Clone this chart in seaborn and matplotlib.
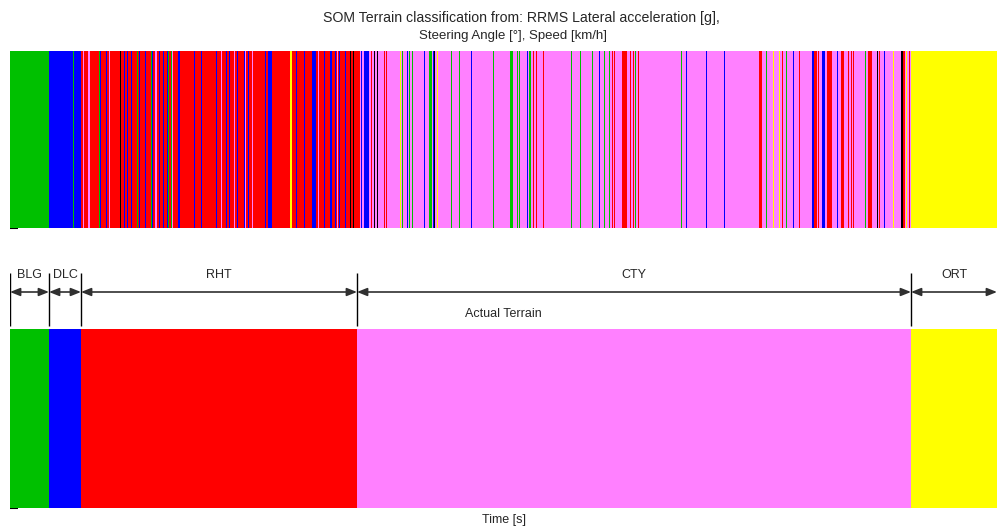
# SOM terrain classification strip vs actual terrain strip
import numpy as np
import matplotlib
matplotlib.use('Agg')  # no display
import matplotlib.pyplot as plt
from matplotlib.colors import ListedColormap
import seaborn as sns


# DATA
classes = ["BLG", "DLC", "RHT", "CTY", "ORT", "UNK"]
class_colors = ["#00c000", "#0000ff", "#ff0000", "#ff80ff", "#ffff00", "#000000"]

# actual terrain segments (time [s])
seg_edges = [0, 39, 71, 347, 901, 987]
seg_labels = ["BLG", "DLC", "RHT", "CTY", "ORT"]

# SOM misclassified stripes: start time, duration, class
stripe_t = [63, 73, 78, 89, 90, 96, 99, 110, 114, 117, 121, 127, 129, 135, 141, 142,
            145, 149, 153, 157, 158, 161, 162, 168, 184, 191, 206, 211, 216, 219, 224,
            227, 234, 235, 238, 242, 255, 258, 280, 286, 294, 302, 308, 314, 320, 325,
            327, 329, 335, 340, 343,
            347, 351, 354, 361, 364, 367, 374, 376, 390, 392, 397, 399, 402, 414, 419,
            423, 424, 427, 441, 449, 461, 483, 500, 507, 509, 517, 519, 523, 526, 533,
            561, 570, 582, 589, 594, 599, 602, 604, 612, 620, 623, 625, 628, 671, 676,
            696, 714, 749, 756, 763, 769, 772, 776, 783, 789, 802, 804, 808, 812, 817,
            827, 831, 838, 841, 843, 855, 858, 867, 869, 874, 883, 891, 893, 896, 899]
stripe_w = [1, 1, 2, 1, 1, 1, 1, 1, 1, 1, 1, 1, 1, 1, 1, 1,
            2, 1, 1, 1, 1, 1, 1, 2, 1, 1, 1, 1, 1, 1, 1,
            1, 1, 1, 1, 1, 1, 4, 2, 1, 1, 4, 1, 1, 2, 1,
            1, 1, 1, 1, 1,
            3, 1, 5, 1, 1, 1, 1, 1, 1, 1, 1, 1, 1, 1, 3,
            1, 1, 1, 1, 1, 1, 1, 3, 1, 1, 1, 2, 1, 1, 1,
            1, 1, 1, 1, 1, 1, 1, 1, 5, 1, 1, 1, 1, 1, 1,
            1, 1, 3, 1, 1, 1, 1, 1, 1, 1, 2, 3, 1, 3, 5,
            1, 3, 1, 1, 1, 1, 4, 1, 1, 1, 1, 2, 2, 1, 1]
stripe_cls = ["BLG", "CTY", "CTY", "BLG", "DLC", "DLC", "CTY", "UNK", "DLC", "DLC", "DLC", "BLG", "DLC", "DLC", "BLG", "DLC",
              "CTY", "DLC", "DLC", "DLC", "BLG", "BLG", "CTY", "DLC", "DLC", "DLC", "DLC", "CTY", "DLC", "DLC", "CTY",
              "DLC", "DLC", "CTY", "DLC", "CTY", "DLC", "DLC", "ORT", "DLC", "DLC", "DLC", "CTY", "DLC", "DLC", "DLC",
              "CTY", "DLC", "DLC", "UNK", "UNK",
              "RHT", "DLC", "DLC", "RHT", "UNK", "UNK", "RHT", "RHT", "ORT", "BLG", "DLC", "BLG", "BLG", "DLC", "BLG",
              "DLC", "UNK", "ORT", "BLG", "BLG", "DLC", "BLG", "BLG", "BLG", "BLG", "DLC", "BLG", "RHT", "RHT", "RHT",
              "BLG", "BLG", "BLG", "DLC", "BLG", "BLG", "RHT", "RHT", "RHT", "RHT", "RHT", "BLG", "RHT", "BLG", "DLC",
              "DLC", "DLC", "RHT", "BLG", "ORT", "ORT", "RHT", "BLG", "DLC", "RHT", "DLC", "RHT", "RHT", "DLC", "RHT",
              "DLC", "RHT", "RHT", "RHT", "RHT", "BLG", "RHT", "UNK", "RHT", "DLC", "ORT", "UNK", "RHT", "ORT", "RHT"]


# BUILD CLASS SEQUENCES
n = seg_edges[-1]
actual = np.zeros(n, dtype=int)
for a, b, lab in zip(seg_edges[:-1], seg_edges[1:], seg_labels):
    actual[a:b] = classes.index(lab)
som = actual.copy()
for t, w, lab in zip(stripe_t, stripe_w, stripe_cls):
    som[t:t + w] = classes.index(lab)

sns.set_theme(style="white")
plt.rcParams['font.family'] = ['Liberation Sans', 'DejaVu Sans']
cmap = ListedColormap(class_colors)

W, H = 997, 529
fig = plt.figure(figsize=(W / 100, H / 100), dpi=100)


def px_axes(x0, y0, x1, y1):
    return fig.add_axes([x0 / W, 1 - y1 / H, (x1 - x0) / W, (y1 - y0) / H])


ax_som = px_axes(10, 51, 997, 228)
ax_mid = px_axes(10, 250, 997, 329)
ax_act = px_axes(10, 329, 997, 508)

for ax, seq in [(ax_som, som), (ax_act, actual)]:
    sns.heatmap(seq[np.newaxis, :], ax=ax, cmap=cmap, vmin=-0.5, vmax=len(classes) - 0.5,
                cbar=False, xticklabels=False, yticklabels=False,
                linewidths=0, antialiased=False)
    ax.set_yticks([1])
    ax.set_yticklabels([])
    ax.tick_params(axis='y', left=True, direction='in', length=6, width=1.5, color='black')

# titles
fig.text(521 / W, 1 - 18 / H, "SOM Terrain classification from: RRMS Lateral acceleration [g],",
         ha='center', va='center', fontsize=10.2)
fig.text(513 / W, 1 - 36 / H, "Steering Angle [°], Speed [km/h]",
         ha='center', va='center', fontsize=9.5)
ax_act.set_xlabel("Time [s]", fontsize=9, labelpad=4)

# segment annotations
ax_mid.set_xlim(0, n)
ax_mid.set_ylim(329, 250)
ax_mid.axis('off')
ax_mid.vlines(seg_edges[:-1], 273, 326, color='black', lw=1)
for a, b, lab in zip(seg_edges[:-1], seg_edges[1:], seg_labels):
    ax_mid.annotate("", xy=(a, 292), xytext=(b, 292), annotation_clip=False,
                    arrowprops=dict(arrowstyle='<|-|>,head_length=0.5,head_width=0.2',
                                    color='#303030', lw=1.2, shrinkA=0, shrinkB=0))
    ax_mid.text((a + b) / 2, 275, lab, ha='center', va='center', fontsize=9)
ax_mid.text(n / 2, 314, "Actual Terrain", ha='center', va='center', fontsize=9)

fig.savefig("out.png", dpi=100)
plt.close()
